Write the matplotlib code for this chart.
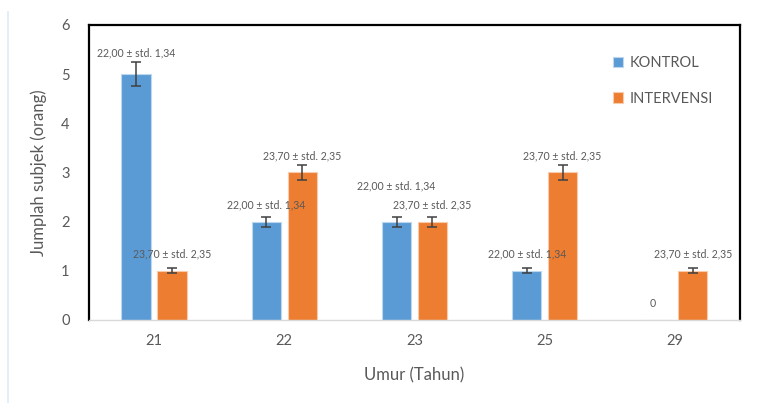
import numpy as np
import matplotlib.pyplot as plt
from matplotlib.lines import Line2D

plt.rcParams['font.family'] = ['Lato', 'DejaVu Sans']

umur = ['21', '22', '23', '25', '29']
kontrol = [5, 2, 2, 1, 0]
intervensi = [1, 3, 2, 3, 1]
label_kontrol = '22,00 ± std. 1,34'
label_intervensi = '23,70 ± std. 2,35'

grey = '#595959'
blue = '#5B9BD5'
orange = '#ED7D31'

fig = plt.figure(figsize=(7.64, 4.03), dpi=100)
ax = fig.add_axes([0.1165, 0.206, 0.852, 0.732])

x = np.arange(len(umur))
w = 0.225
off = 0.138

# error bars: 5% of the value
err_k = [v * 0.05 for v in kontrol]
err_i = [v * 0.05 for v in intervensi]

ax.bar(x - off, kontrol, w, color=blue, edgecolor='#BDD7EE', linewidth=0.8, label='KONTROL', zorder=2)
ax.bar(x + off, intervensi, w, color=orange, edgecolor='#F8CBAD', linewidth=0.8, label='INTERVENSI', zorder=2)
ax.errorbar(x[:4] - off, kontrol[:4], yerr=err_k[:4], fmt='none', ecolor='#404040',
            elinewidth=1.1, capsize=3.5, capthick=1.1, zorder=3)
ax.errorbar(x + off, intervensi, yerr=err_i, fmt='none', ecolor='#404040',
            elinewidth=1.1, capsize=3.5, capthick=1.1, zorder=3)

# data labels
k_offsets = [15, 12, 26, 12, 12]
for i, v in enumerate(kontrol):
    txt = label_kontrol if v > 0 else '0'
    dx = 0 if v > 0 else -3
    ax.annotate(txt, (x[i] - off, v), xytext=(dx, k_offsets[i]), textcoords='offset points',
                ha='center', va='center', fontsize=7.6, color=grey)
for i, v in enumerate(intervensi):
    ax.annotate(label_intervensi, (x[i] + off, v), xytext=(0, 12), textcoords='offset points',
                ha='center', va='center', fontsize=7.6, color=grey)

ax.set_xlim(-0.5, len(umur) - 0.5)
ax.set_ylim(0, 6)
ax.set_xticks(x)
ax.set_xticklabels(umur)
ax.set_yticks(range(7))
ax.tick_params(length=0, labelsize=10.5, colors=grey, pad=10)
ax.tick_params(axis='y', pad=14)

for s in ['left', 'top', 'right']:
    ax.spines[s].set_color('black')
    ax.spines[s].set_linewidth(1.6)
ax.spines['bottom'].set_color('#D9D9D9')
ax.spines['bottom'].set_linewidth(1.0)

ax.set_xlabel('Umur (Tahun)', fontsize=12, color=grey, labelpad=14)
ax.set_ylabel('Jumplah subjek (orang)', fontsize=12, color=grey, labelpad=10)

ax.legend(loc='upper left', bbox_to_anchor=(0.785, 0.94), frameon=False, fontsize=10.5,
          handlelength=0.7, handleheight=0.7, handletextpad=0.4, labelspacing=1.5,
          labelcolor=grey)

# faint border line at the left edge of the picture
fig.add_artist(Line2D([8 / 764, 8 / 764], [0, 1 - 12 / 403], color='#DDEBF7', linewidth=1.2))

fig.savefig('out.png', dpi=100)
